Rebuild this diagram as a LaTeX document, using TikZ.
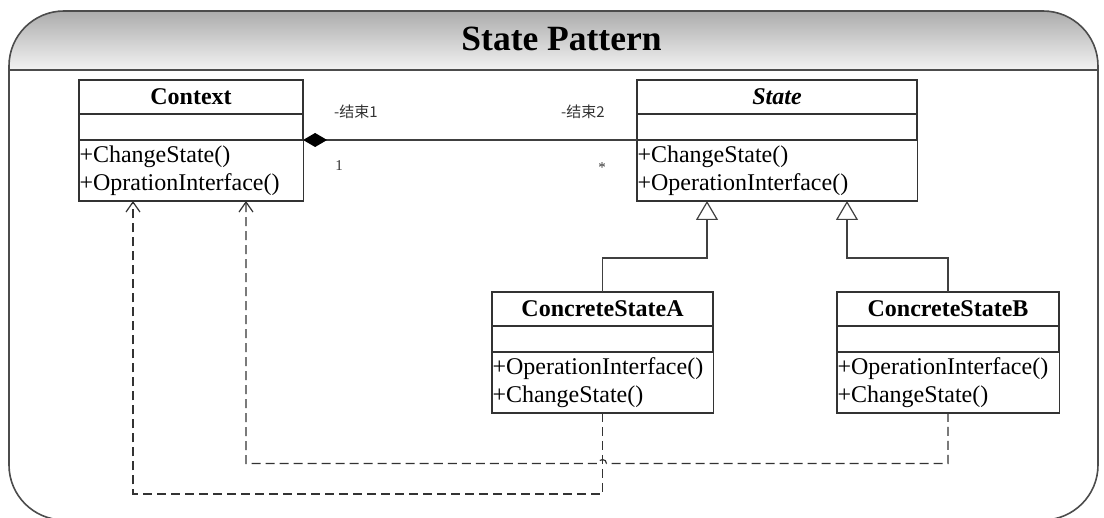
\documentclass[tikz,border=0pt]{standalone}
\usepackage{fontspec}
\setmainfont{Liberation Serif}
\newfontfamily\cjkfont{Noto Sans CJK SC}
\usetikzlibrary{positioning,arrows.meta}

\tikzset{
    clshead/.style={draw=black!80, line width=1.2pt, minimum height=34pt, inner sep=0pt, outer sep=0pt,
        font=\fontsize{24}{28}\selectfont\bfseries},
    clsattr/.style={draw=black!80, line width=1.2pt, minimum height=26pt, inner sep=0pt, outer sep=0pt},
    clsmeth/.style={draw=black!80, line width=1.2pt, minimum height=61pt, inner xsep=0.6pt, inner ysep=0pt,
        outer sep=0pt, align=left, text width=#1, font=\fontsize{24}{28}\selectfont},
    endlabel/.style={font=\cjkfont\fontsize{15}{17}\selectfont, text=black!80},
    multlabel/.style={font=\fontsize{15}{17}\selectfont, text=black!80},
    frame/.style={draw=black!70, line width=1.6pt},
    assoc/.style={draw=black!75, line width=1.2pt, {Diamond[length=24pt,width=14pt,black,fill=black]}-},
    genl/.style={draw=black!75, line width=1.2pt, -{Triangle[open,length=19pt,width=22pt,fill=white]}},
    dep/.style={draw=black!80, line width=1.2pt, dash pattern=on 9pt off 5pt,
        -{Straight Barb[length=10pt,width=14pt]}}
}

\begin{document}
\begin{tikzpicture}[x=1pt,y=1pt]
    \useasboundingbox (0,0) rectangle (1104,-518);
    \clip (0,0) rectangle (1104,-518);
    % frame and title band
    \shade[top color=gray!65, bottom color=gray!10] (9,-70) -- (9,-66) arc[start angle=180,end angle=90,radius=55]
        -- (1043,-11) arc[start angle=90,end angle=0,radius=55] -- (1098,-70) -- cycle;
    \draw[frame, rounded corners=55pt] (9,-11) rectangle (1098,-520);
    \draw[frame] (9,-70) -- (1098,-70);
    \node[font=\fontsize{35.5}{40}\selectfont\bfseries, anchor=base] (title) at (561.5,-51) {State Pattern};

    % Context
    \node[clshead, minimum width=224pt] (ctx) at (191,-97) {Context};
    \node[clsattr, minimum width=224pt, below=0pt of ctx] (ctxA) {};
    \node[clsmeth=223pt, below=0pt of ctxA] (ctxM) {+ChangeState()\\+OprationInterface()};

    % State
    \node[clshead, minimum width=280pt] (st) at (777,-97) {\itshape State};
    \node[clsattr, minimum width=280pt, below=0pt of st] (stA) {};
    \node[clsmeth=279pt, below=0pt of stA] (stM) {+ChangeState()\\+OperationInterface()};

    % concrete states
    \node[clshead, minimum width=221pt] (csA) at (602.5,-309) {ConcreteStateA};
    \node[clsattr, minimum width=221pt, below=0pt of csA] (csAA) {};
    \node[clsmeth=220pt, below=0pt of csAA] (csAM) {+OperationInterface()\\+ChangeState()};

    \node[clshead, minimum width=222pt] (csB) at (948,-309) {ConcreteStateB};
    \node[clsattr, minimum width=222pt, below=0pt of csB] (csBA) {};
    \node[clsmeth=221pt, below=0pt of csBA] (csBM) {+OperationInterface()\\+ChangeState()};

    % association
    \draw[assoc] (ctxM.north east) -- (stM.north west);
    \node[endlabel] (end1) at (356,-112) {-结束1};
    \node[endlabel] (end2) at (583,-112) {-结束2};
    \node[multlabel] (mult1) at (339,-166) {1};
    \node[multlabel] (mult2) at (602,-168) {*};

    % generalization
    \draw[genl] (csA.north) -- ++(0,34) -| ([xshift=-70pt]stM.south);
    \draw[genl] (csB.north) -- ++(0,34) -| ([xshift=70pt]stM.south);

    % dependencies
    \coordinate (hop) at (csAM.south |- 0,-463.5);
    \draw[dep] (csAM.south) -- ++(0,-81) -| ([xshift=-58pt]ctxM.south);
    \draw[dep] (csBM.south) |- ([xshift=4pt]hop) arc[start angle=0,end angle=180,radius=4]
        -| ([xshift=55pt]ctxM.south);
\end{tikzpicture}
\end{document}
